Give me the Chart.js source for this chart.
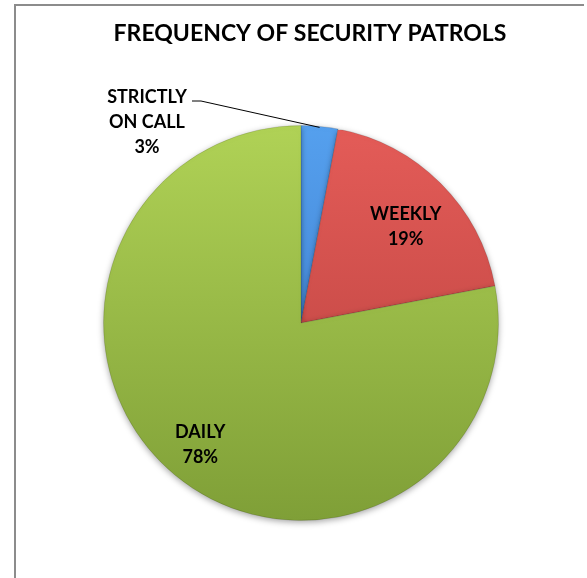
<!DOCTYPE html>
<html>
<head>
<meta charset="utf-8">
<script src="https://cdn.jsdelivr.net/npm/chart.js@4"></script>
<style>
  body { margin: 0; background: #fff; }
  #wrap { position: relative; width: 587px; height: 578px; }
  #frame { position: absolute; left: 14px; top: 4px; width: 568px; height: 580px;
           border-left: 2px solid #8c8c8c; border-top: 2px solid #8c8c8c; }
  canvas { position: absolute; left: 0; top: 0; }
</style>
</head>
<body>
<div id="wrap">
  <div id="frame"></div>
  <canvas id="grafico" width="587" height="578"></canvas>
</div>
<script>
const titulo = "FREQUENCY OF SECURITY PATROLS";
const categorias = ["STRICTLY ON CALL", "WEEKLY", "DAILY"];
const percentuais = [3, 19, 78];
const coresTopo = ["#55a0ee", "#e45c58", "#b0d256"];
const coresBase = ["#3773c4", "#b53f3c", "#7f9f37"];

// text lines for each label (category split + percentage)
const linhasRotulo = [["STRICTLY", "ON CALL"], ["WEEKLY"], ["DAILY"]];

const fonte = "Lato, 'Liberation Sans', sans-serif";

const gradiente = (context) => {
  const chart = context.chart;
  const area = chart.chartArea;
  if (!area) return coresTopo[context.dataIndex];
  const g = chart.ctx.createLinearGradient(0, area.top, 0, area.bottom);
  g.addColorStop(0, coresTopo[context.dataIndex]);
  g.addColorStop(1, coresBase[context.dataIndex]);
  return g;
};

const sombra = {
  id: "sombra",
  beforeDatasetDraw(chart) {
    const ctx = chart.ctx;
    ctx.save();
    ctx.shadowColor = "rgba(0,0,0,0.35)";
    ctx.shadowBlur = 6;
    ctx.shadowOffsetY = 2;
  },
  afterDatasetDraw(chart) {
    chart.ctx.restore();
  },
};

const rotulos = {
  id: "rotulos",
  afterDatasetsDraw(chart) {
    const ctx = chart.ctx;
    const meta = chart.getDatasetMeta(0);
    const fatores = [null, 0.75, 0.8];
    const desvioY = [0, 8, 0];
    ctx.save();
    ctx.fillStyle = "#000";
    ctx.textAlign = "center";
    ctx.textBaseline = "middle";
    // title (the frame is off-centre, so it is placed by hand)
    ctx.font = "bold 23px " + fonte;
    ctx.fillText(titulo, 310, 34);
    ctx.font = "bold 18px " + fonte;
    meta.data.forEach((arc, i) => {
      const p = arc.getProps(["x", "y", "startAngle", "endAngle", "outerRadius"], true);
      const meio = (p.startAngle + p.endAngle) / 2;
      const linhas = linhasRotulo[i].concat([percentuais[i] + "%"]);
      let cx, cy;
      if (fatores[i] === null) {
        // outside label with leader line
        const ex = p.x + Math.cos(meio) * p.outerRadius;
        const ey = p.y + Math.sin(meio) * p.outerRadius;
        cx = p.x - 154;
        cy = p.y - 201;
        ctx.beginPath();
        ctx.strokeStyle = "#000";
        ctx.lineWidth = 1;
        ctx.moveTo(cx + 45, cy - 21);
        ctx.lineTo(cx + 54, cy - 21);
        ctx.lineTo(ex, ey + 1);
        ctx.stroke();
      } else {
        const r = p.outerRadius * fatores[i];
        cx = p.x + Math.cos(meio) * r;
        cy = p.y + Math.sin(meio) * r + desvioY[i];
      }
      const passo = 25;
      const y0 = cy - (passo * (linhas.length - 1)) / 2;
      linhas.forEach((t, k) => ctx.fillText(t, cx, y0 + k * passo));
    });
    ctx.restore();
  },
};

new Chart(document.getElementById("grafico").getContext("2d"), {
  type: "pie",
  data: {
    labels: categorias,
    datasets: [
      {
        data: percentuais,
        backgroundColor: gradiente,
        borderColor: "rgba(0,0,0,0.12)",
        borderWidth: 1,
      },
    ],
  },
  options: {
    responsive: false,
    animation: false,
    layout: { padding: { left: 103, right: 88, top: 125, bottom: 57 } },
    plugins: {
      legend: { display: false },
      tooltip: { enabled: false },
      title: { display: false },
    },
  },
  plugins: [sombra, rotulos],
});
</script>
</body>
</html>
